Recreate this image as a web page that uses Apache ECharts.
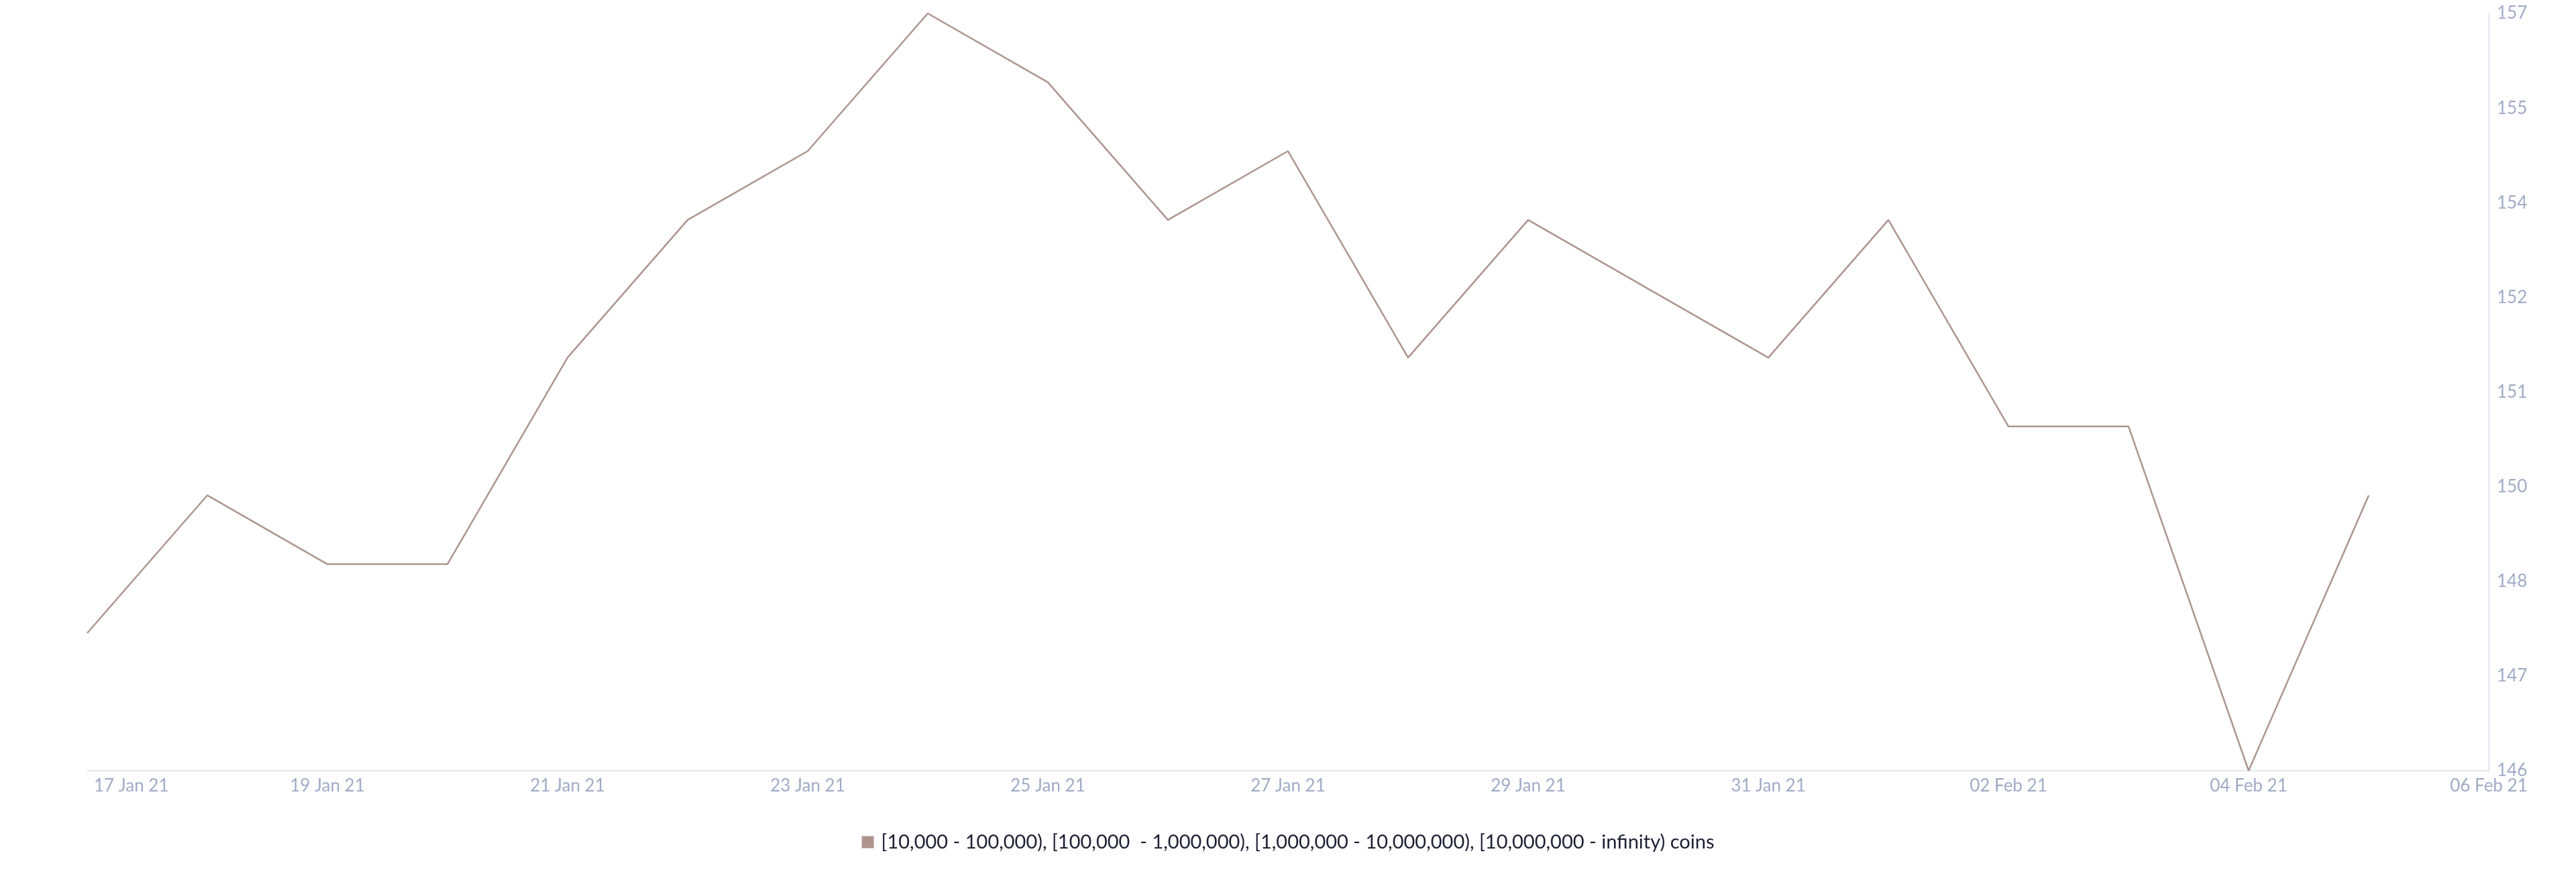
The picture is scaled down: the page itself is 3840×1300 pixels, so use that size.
<!DOCTYPE html>
<html>
<head>
<meta charset="utf-8">
<script src="https://cdn.jsdelivr.net/npm/echarts@6/dist/echarts.min.js"></script>
<style>
html,body{margin:0;padding:0;background:#fff;}
#chart{width:3840px;height:1300px;}
</style>
</head>
<body>
<div id="chart"></div>
<script>
// Data
const dates = ['2021-01-17','2021-01-18','2021-01-19','2021-01-20','2021-01-21','2021-01-22','2021-01-23','2021-01-24','2021-01-25','2021-01-26','2021-01-27','2021-01-28','2021-01-29','2021-01-30','2021-01-31','2021-02-01','2021-02-02','2021-02-03','2021-02-04','2021-02-05'];
const values = [148,150,149,149,152,154,155,157,156,154,155,152,154,153,152,154,151,151,146,150];
const seriesName = '[10,000 - 100,000), [100,000  - 1,000,000), [1,000,000 - 10,000,000), [10,000,000 - infinity) coins';
const xLabelDates = ['2021-01-17','2021-01-19','2021-01-21','2021-01-23','2021-01-25','2021-01-27','2021-01-29','2021-01-31','2021-02-02','2021-02-04','2021-02-06'];
const xMin = '2021-01-17';
const xMax = '2021-02-06';
const yMin = 146;
const yMax = 157;
const yTicks = [146,147.375,148.75,150.125,151.5,152.875,154.25,155.625,157];
const monthNames = ['Jan','Feb','Mar','Apr','May','Jun','Jul','Aug','Sep','Oct','Nov','Dec'];

function toTs(s){ const p = s.split('-').map(Number); return Date.UTC(p[0], p[1]-1, p[2]); }
function fmtDate(v){
  const d = new Date(v);
  const dd = String(d.getUTCDate()).padStart(2,'0');
  return dd + ' ' + monthNames[d.getUTCMonth()] + ' ' + String(d.getUTCFullYear()).slice(2);
}

const lineColor = '#ad958e';
const axisColor = '#e3e8f1';
const labelColor = '#a0abc6';
const font = 'Lato';
const minTs = toTs(xMin);

const chart = echarts.init(document.getElementById('chart'));
chart.setOption({
  animation: false,
  backgroundColor: '#ffffff',
  grid: { left: 130, right: 130, top: 20, bottom: 151, containLabel: false },
  legend: {
    data: [{ name: seriesName, icon: 'rect' }],
    left: 'center',
    top: 1236,
    itemWidth: 18,
    itemHeight: 18,
    textStyle: { fontFamily: font, fontSize: 29, color: '#1c2033', padding: [0,0,0,6] }
  },
  xAxis: {
    type: 'value',
    min: minTs,
    max: toTs(xMax),
    axisLine: { show: true, lineStyle: { color: axisColor, width: 2 } },
    axisTick: { show: false },
    splitLine: { show: false },
    axisLabel: {
      customValues: xLabelDates.map(toTs),
      formatter: function(v){ return v === minTs ? '{first|' + fmtDate(v) + '}' : fmtDate(v); },
      rich: { first: { padding: [0,0,0,10], color: labelColor, fontFamily: font, fontSize: 26 } },
      color: labelColor,
      fontFamily: font,
      fontSize: 26,
      margin: 10,
      alignMinLabel: 'left',
      showMinLabel: true,
      showMaxLabel: true,
      hideOverlap: false
    }
  },
  yAxis: {
    type: 'value',
    position: 'right',
    min: yMin,
    max: yMax,
    axisLine: { show: true, lineStyle: { color: axisColor, width: 2 } },
    axisTick: { show: false },
    splitLine: { show: false },
    axisLabel: {
      customValues: yTicks,
      formatter: function(v){ return String(Math.floor(v)); },
      color: labelColor,
      fontFamily: font,
      fontSize: 26,
      margin: 12
    }
  },
  series: [{
    name: seriesName,
    type: 'line',
    data: dates.map((d,i) => [toTs(d), values[i]]),
    showSymbol: false,
    symbol: 'none',
    itemStyle: { color: lineColor },
    lineStyle: { color: lineColor, width: 2.5 }
  }]
});
</script>
</body>
</html>
